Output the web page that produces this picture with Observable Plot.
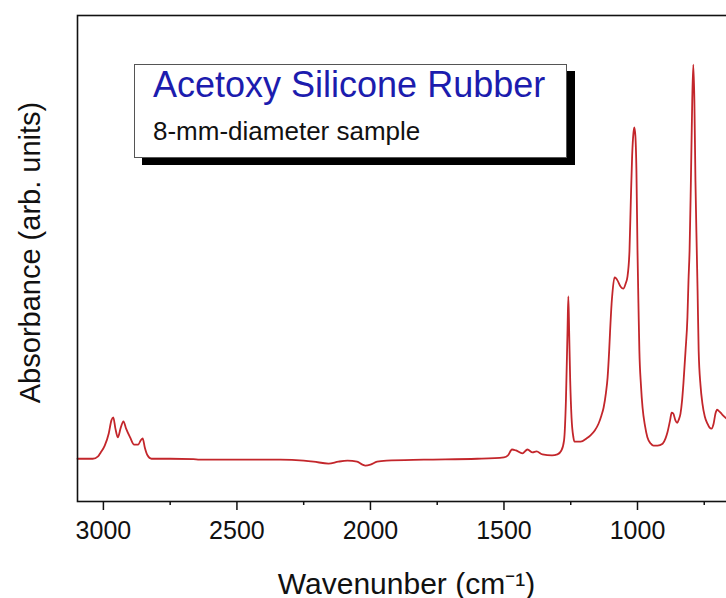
<!DOCTYPE html>
<html><head><meta charset="utf-8">
<script src="https://cdn.jsdelivr.net/npm/d3@7"></script>
<script src="https://cdn.jsdelivr.net/npm/@observablehq/plot@0.6"></script>
<style>
html,body{margin:0;padding:0;background:#fff;overflow:hidden;}
#wrap{position:relative;width:726px;height:598px;overflow:hidden;font-family:"Liberation Sans",Arial,sans-serif;}
#wrap svg{max-width:none !important;}
#box{position:absolute;left:134px;top:64px;width:431px;height:92px;border:1px solid #555;background:#fff;box-shadow:8px 7px 0 #000;z-index:2;}
#t1{position:absolute;left:18px;top:2px;font-size:36px;line-height:36px;color:#1c1cae;white-space:nowrap;}
#t2{position:absolute;left:18px;top:53px;font-size:26px;line-height:26px;color:#111;white-space:nowrap;}
</style></head><body><div id="wrap"></div>
<script>
const wavenumber = [3097,3040,3020,3010,2995,2980,2970,2963,2955,2946,2935,2925,2915,2900,2885,2870,2860,2853,2845,2835,2820,2750,2663,2640,2500,2337,2250,2213,2157,2120,2086,2050,2030,2019,2000,1975,1940,1800,1600,1500,1485,1470,1455,1431,1412,1393,1378,1356,1320,1300,1285,1275,1268,1262,1259,1256,1252,1247,1240,1236,1213,1190,1176,1160,1146,1135,1127,1118,1112,1106,1103,1097,1094,1086,1080,1075,1063,1053,1044,1038,1030,1025,1020,1015,1012,1008,1004,1000,996,993,987,981,972,963,950,940,925,906,895,888,878,872,866,858,851,845,839,833,828,820,813,809,805,800,795,791,787,783,778,775,771,764,757,748,738,730,723,715,708,702,697,689,680,667,640];
const absorbance = [0.088,0.088,0.093,0.101,0.115,0.140,0.167,0.173,0.150,0.132,0.152,0.165,0.150,0.132,0.117,0.117,0.126,0.130,0.111,0.095,0.088,0.088,0.087,0.086,0.086,0.086,0.084,0.082,0.078,0.082,0.084,0.082,0.076,0.074,0.076,0.082,0.084,0.086,0.088,0.091,0.095,0.107,0.105,0.099,0.107,0.101,0.103,0.097,0.095,0.097,0.105,0.126,0.208,0.352,0.422,0.352,0.249,0.173,0.132,0.123,0.123,0.130,0.136,0.146,0.160,0.177,0.193,0.224,0.255,0.311,0.346,0.407,0.428,0.461,0.459,0.455,0.442,0.438,0.449,0.461,0.516,0.619,0.712,0.759,0.770,0.753,0.681,0.516,0.393,0.311,0.239,0.193,0.156,0.132,0.119,0.115,0.115,0.119,0.130,0.142,0.167,0.183,0.181,0.167,0.162,0.169,0.181,0.208,0.243,0.311,0.379,0.455,0.516,0.660,0.825,0.899,0.825,0.660,0.516,0.434,0.311,0.239,0.202,0.175,0.160,0.152,0.150,0.160,0.181,0.189,0.187,0.183,0.177,0.171,0.165];
const majorTicks = [3000, 2500, 2000, 1500, 1000];
const minorTicks = [2750, 2250, 1750, 1250, 750];
const titleText = "Acetoxy Silicone Rubber";
const subtitleText = "8-mm-diameter sample";
const xLabel = "Wavenunber (cm⁻¹)";
const yLabel = "Absorbance (arb. units)";

const data = wavenumber.map((w, i) => ({w, a: absorbance[i]}));

const chart = Plot.plot({
  width: 735, height: 598,
  marginLeft: 77, marginRight: 0, marginTop: 15, marginBottom: 97,
  style: {fontFamily: "Liberation Sans, Arial, sans-serif", background: "white", color: "#111", maxWidth: "none"},
  x: {domain: [3097, 633]},
  y: {domain: [0, 1]},
  marks: [
    Plot.line(data, {x: "w", y: "a", stroke: "#c3262b", strokeWidth: 1.8, curve: "monotone-x"}),
    Plot.frame({stroke: "#111", strokeWidth: 1.6}),
    Plot.axisX(minorTicks, {tickSize: 4, tickFormat: () => "", label: null, strokeWidth: 1.5}),
    Plot.axisX(majorTicks, {tickSize: 9, tickPadding: 11, tickFormat: "d", fontSize: 25, label: null, strokeWidth: 1.5}),
    Plot.axisX({ticks: [], tickSize: 0, label: xLabel, labelAnchor: "center", labelArrow: false, labelOffset: 92, fontSize: 30}),
    Plot.axisY({ticks: [], tickSize: 0, label: null}),
    Plot.text([yLabel], {text: d => d, frameAnchor: "left", textAnchor: "middle", lineAnchor: "middle", rotate: -90, dx: -47, dy: -6, fontSize: 29, fill: "#111"})
  ]
});
const wrap = document.getElementById("wrap");
wrap.appendChild(chart);
const box = document.createElement("div");
box.id = "box";
box.innerHTML = `<div id="t1"></div><div id="t2"></div>`;
box.querySelector("#t1").textContent = titleText;
box.querySelector("#t2").textContent = subtitleText;
wrap.appendChild(box);
</script>
</body></html>
